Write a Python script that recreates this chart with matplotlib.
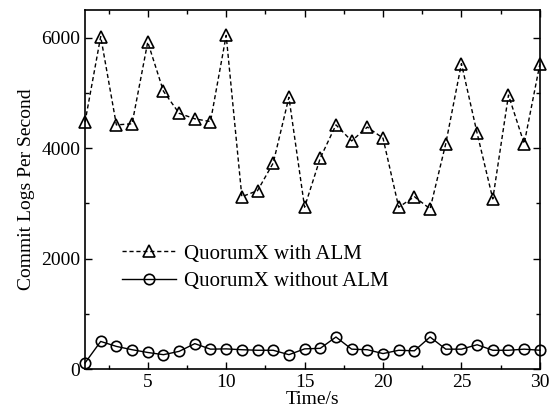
import matplotlib
matplotlib.use("Agg")
import matplotlib.pyplot as plt
from matplotlib.ticker import MultipleLocator

plt.rcParams['font.family'] = ['Liberation Serif', 'DejaVu Serif']
plt.rcParams['mathtext.fontset'] = 'stix'

time_s = list(range(1, 31))
with_alm = [4470, 6020, 4420, 4440, 5920, 5030, 4630, 4530, 4480, 6040,
            3120, 3230, 3730, 4920, 2930, 3820, 4420, 4130, 4380, 4180,
            2930, 3120, 2900, 4080, 5530, 4270, 3080, 4960, 4080, 5520]
without_alm = [110, 500, 410, 350, 300, 260, 320, 460, 360, 365,
               350, 340, 340, 260, 365, 375, 580, 360, 350, 280,
               340, 330, 580, 360, 360, 440, 340, 340, 360, 340]
labels = ["QuorumX with ALM", "QuorumX without ALM"]

fig = plt.figure(figsize=(5.52, 4.17), dpi=100)
ax = fig.add_axes([0.154, 0.115, 0.824, 0.861])

ax.plot(time_s, with_alm, linestyle=(0, (3, 2)), color='black', linewidth=1.0,
        marker='^', markersize=9, markerfacecolor='none', markeredgecolor='black',
        markeredgewidth=1.2, label=labels[0], clip_on=False)
ax.plot(time_s, without_alm, linestyle='-', color='black', linewidth=1.0,
        marker='o', markersize=7.5, markerfacecolor='none', markeredgecolor='black',
        markeredgewidth=1.2, label=labels[1], clip_on=False)

ax.set_xlim(1, 30)
ax.set_ylim(0, 6500)
ax.xaxis.set_major_locator(MultipleLocator(5))
ax.xaxis.set_minor_locator(MultipleLocator(2.5))
ax.yaxis.set_major_locator(MultipleLocator(2000))
ax.yaxis.set_minor_locator(MultipleLocator(1000))
ax.tick_params(which='both', direction='in', top=True, right=True,
               labelsize=14, width=1.0)
ax.tick_params(which='major', length=5)
ax.tick_params(which='minor', length=3)
for s in ax.spines.values():
    s.set_linewidth(1.2)

ax.set_xlabel("Time/s", fontsize=14, labelpad=0)
ax.set_ylabel("Commit Logs Per Second", fontsize=14, labelpad=4)

ax.legend(loc='lower left', bbox_to_anchor=(0.04, 0.165), frameon=False,
          fontsize=15, handlelength=2.6, handletextpad=0.4, labelspacing=0.38)

fig.savefig("out.png", dpi=100)
